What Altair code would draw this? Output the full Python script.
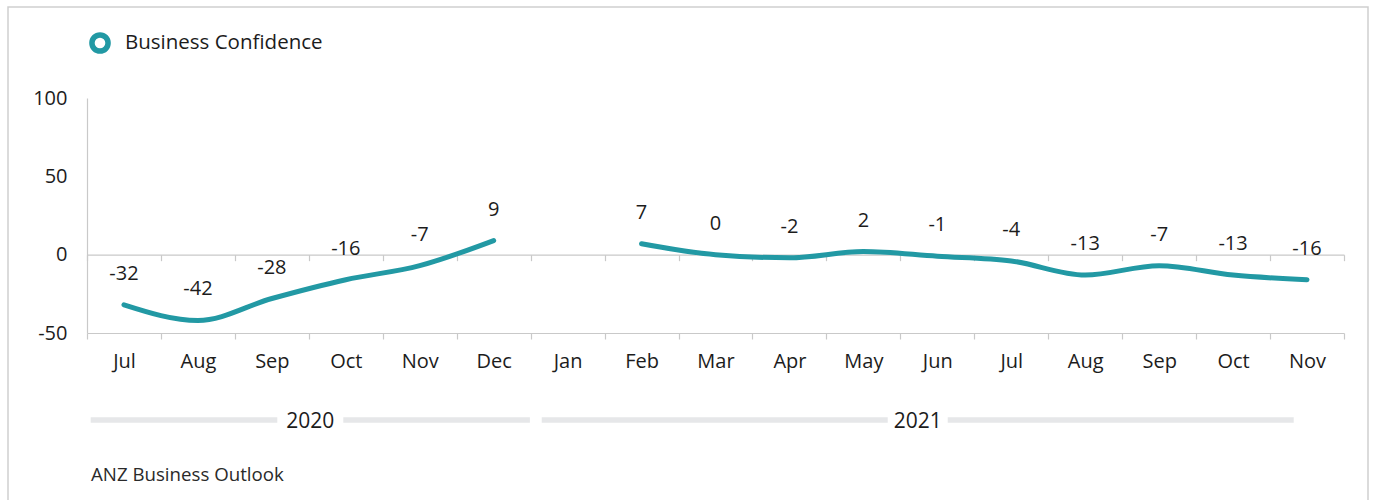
import altair as alt
import pandas as pd

# ---- data ----
months = ["Jul", "Aug", "Sep", "Oct", "Nov", "Dec", "Jan", "Feb", "Mar",
          "Apr", "May", "Jun", "Jul", "Aug", "Sep", "Oct", "Nov"]
confidence = [-32, -42, -28, -16, -7, 9, None, 7, 0, -2, 2, -1, -4, -13, -7, -13, -16]
segment = [1, 1, 1, 1, 1, 1, None, 2, 2, 2, 2, 2, 2, 2, 2, 2, 2]
years = ["2020", "2021"]
year_start = [0.05, 6.15]      # in month-band units
year_end = [5.99, 16.32]
year_gap_px = [33, 30]        # half gap around the year label
series_name = "Business Confidence"
source_text = "ANZ Business Outlook"
y_ticks = [-50, 0, 50, 100]

# ---- layout / style ----
W, H = 1257, 235
Y_MIN, Y_MAX = -50, 100
N = len(months)
STEP = W / N
LINE_COLOR = "#2299a4"
LEGEND_COLOR = "#19a5b8"
GRAY = "#c9c9c9"
TXT = "#1c1c1c"
FONT = "Open Sans"

idx = list(range(N))
df = pd.DataFrame({"idx": idx, "month": months, "value": confidence,
                   "seg": segment, "series": series_name})
line_df = df.dropna(subset=["value"]).copy()
line_df["lbl"] = [str(int(v)) for v in line_df["value"]]

label_expr = "[" + ",".join(f"'{m}'" for m in months) + "][datum.value]"
band = alt.Scale(type="band", domain=idx, paddingInner=0, paddingOuter=0)
y_scale = alt.Scale(domain=[Y_MIN, Y_MAX], nice=False, zero=False)
y_axis = alt.Axis(values=y_ticks, title=None, ticks=False, grid=False,
                  labelExpr="'' + datum.value",
                  domainColor=GRAY, domainWidth=1.2, labelPadding=20,
                  labelFontSize=20, labelFont=FONT, labelColor=TXT)

zero_offset = -H * (0 - Y_MIN) / (Y_MAX - Y_MIN)

line = alt.Chart(line_df).mark_line(
    interpolate="monotone", strokeWidth=5, strokeCap="round"
).encode(
    x=alt.X("idx:O", scale=band, bandPosition=0.5,
            axis=alt.Axis(orient="bottom", title=None, labelExpr=label_expr,
                          labelAngle=0, tickBand="extent", ticks=True, tickSize=6,
                          tickColor=GRAY, domainColor=GRAY, domainWidth=1.2,
                          tickWidth=1.2, labelPadding=12, labelFontSize=20,
                          labelFont=FONT, labelColor=TXT, grid=False)),
    y=alt.Y("value:Q", scale=y_scale, axis=y_axis),
    detail="seg:N",
    color=alt.Color("series:N", scale=alt.Scale(range=[LINE_COLOR]),
                    legend=alt.Legend(title=None, orient="none", legendX=2, legendY=-66,
                                      symbolType="circle", symbolSize=260,
                                      symbolStrokeWidth=5.5, symbolFillColor="white",
                                      symbolStrokeColor=LEGEND_COLOR, labelFontSize=20.5,
                                      labelFont=FONT, labelColor=TXT, labelOffset=14,
                                      labelLimit=500, padding=0)),
)

labels = alt.Chart(line_df).mark_text(
    dy=-31, fontSize=20, font=FONT, color=TXT, baseline="middle"
).encode(
    x=alt.X("idx:O", scale=band, bandPosition=0.5,
            axis=alt.Axis(orient="bottom", offset=zero_offset, labels=False, title=None,
                          tickBand="extent", ticks=True, tickSize=6, tickColor=GRAY,
                          domainColor=GRAY, domainWidth=1.2, tickWidth=1.2, grid=False)),
    y=alt.Y("value:Q", scale=y_scale, axis=y_axis),
    text="lbl:N",
)

# year group bars
yr_rows = []
for yname, s, e, g in zip(years, year_start, year_end, year_gap_px):
    c = (s + e) / 2
    gu = g / STEP
    yr_rows.append({"year": yname, "a": s, "b": c - gu, "c": c})
    yr_rows.append({"year": yname, "a": c + gu, "b": e, "c": c})
yr_df = pd.DataFrame(yr_rows)
yx = alt.Scale(domain=[0, N], nice=False, zero=False)

year_bars = alt.Chart(yr_df).mark_rule(strokeWidth=5.5, color="#e6e7e9").encode(
    x=alt.X("a:Q", scale=yx, axis=None),
    x2="b:Q",
    y=alt.value(H + 87),
)
year_text = alt.Chart(pd.DataFrame({"year": years,
                                    "c": [(s + e) / 2 for s, e in zip(year_start, year_end)]})
                      ).mark_text(fontSize=21, font=FONT, color=TXT,
                                  baseline="middle").encode(
    x=alt.X("c:Q", scale=yx, axis=None),
    y=alt.value(H + 89),
    text="year:N",
)

source = alt.Chart(pd.DataFrame({"t": [source_text]})).mark_text(
    fontSize=18.7, font=FONT, color="#2a2a2a", align="left", baseline="middle"
).encode(x=alt.value(4), y=alt.value(H + 142), text="t:N")

border = alt.Chart(pd.DataFrame({"k": [0]})).mark_rect(
    fill=None, stroke="#cfcfcf", strokeWidth=1.5
).encode(x=alt.value(-79), x2=alt.value(W + 24), y=alt.value(-91), y2=alt.value(H + 200))

chart = alt.layer(border, line, labels, year_bars, year_text, source).resolve_scale(
    x="independent", y="shared"
).resolve_axis(x="independent").properties(
    width=W, height=H,
    autosize=alt.AutoSizeParams(type="none"),
    padding={"left": 87, "top": 98, "right": 29, "bottom": 167},
    background="white",
).configure_view(stroke=None)

chart.save("out.html", embed_options={"renderer": "svg", "actions": False})
